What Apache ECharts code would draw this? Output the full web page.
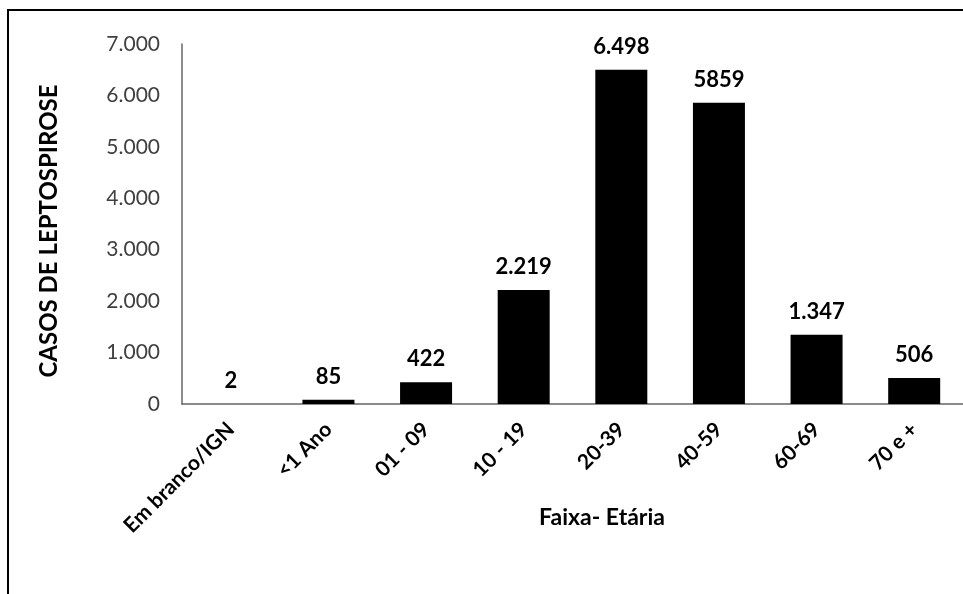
<!DOCTYPE html>
<html>
<head>
<meta charset="utf-8">
<script src="https://cdn.jsdelivr.net/npm/echarts@6/dist/echarts.min.js"></script>
<style>
  html, body { margin: 0; padding: 0; background: #fff; }
  #chart { width: 963px; height: 594px; }
</style>
</head>
<body>
<div id="chart"></div>
<script>
// faixas etárias
var categorias = ['Em branco/IGN', '<1 Ano', '01 - 09', '10 - 19', '20-39', '40-59', '60-69', '70 e +'];
// casos por faixa
var casos = [2, 85, 422, 2219, 6498, 5859, 1347, 506];
// rótulos como aparecem no gráfico original
var rotulos = ['2', '85', '422', '2.219', '6.498', '5859', '1.347', '506'];
var ticksY = [0, 1000, 2000, 3000, 4000, 5000, 6000, 7000];

var fonte = 'Lato, "Open Sans", sans-serif';

var myChart = echarts.init(document.getElementById('chart'));

function milhar(v) {
    return String(v).replace(/\B(?=(\d{3})+(?!\d))/g, '.');
}

var option = {
    animation: false,
    textStyle: { fontFamily: fonte },
    // a área do gráfico passa um pouco da borda direita
    grid: { left: 182, width: 791, top: 44, height: 360 },
    graphic: [{
        type: 'rect',
        shape: { x: 8, y: 10, width: 1000, height: 700 },
        style: { fill: 'none', stroke: '#000', lineWidth: 2 }
    }, {
        type: 'text',
        x: 602, y: 518,
        style: {
            text: 'Faixa- Etária', fill: '#000', font: 'bold 23px ' + fonte,
            textAlign: 'center', textVerticalAlign: 'middle'
        }
    }, {
        type: 'text',
        x: 49, y: 231, rotation: Math.PI / 2,
        style: {
            text: 'CASOS DE LEPTOSPIROSE', fill: '#000', font: 'bold 24px ' + fonte,
            textAlign: 'center', textVerticalAlign: 'middle'
        }
    }],
    xAxis: {
        type: 'category',
        data: categorias,
        axisLine: { lineStyle: { color: '#666', width: 1.5 } },
        axisTick: { show: false },
        axisLabel: {
            rotate: 45, interval: 0, margin: 22,
            color: '#000', fontWeight: 'bold', fontSize: 21, fontFamily: fonte
        }
    },
    yAxis: {
        type: 'value',
        min: ticksY[0], max: ticksY[ticksY.length - 1], interval: 1000,
        splitLine: { show: false },
        axisLine: { show: true, lineStyle: { color: '#666', width: 1.5 } },
        axisTick: { show: false },
        axisLabel: {
            margin: 22, color: '#404040', fontSize: 21, fontFamily: fonte,
            formatter: milhar
        }
    },
    series: [{
        type: 'bar',
        data: casos,
        barWidth: 52,
        itemStyle: { color: '#000' },
        label: {
            show: true, position: 'top', distance: 12,
            color: '#000', fontWeight: 'bold', fontSize: 22, fontFamily: fonte,
            formatter: function (p) { return rotulos[p.dataIndex]; }
        }
    }]
};

myChart.setOption(option);
</script>
</body>
</html>
